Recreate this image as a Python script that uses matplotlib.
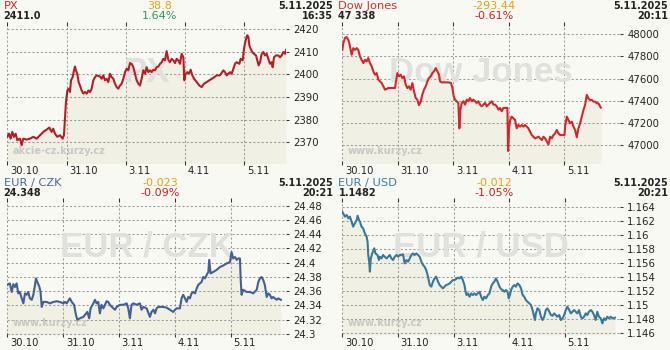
import matplotlib
matplotlib.use('Agg')
import matplotlib.pyplot as plt
import matplotlib.transforms as mtrans

# ---------------- data ----------------
day_labels = ['30.10', '31.10', '3.11', '4.11', '5.11']

# PX index, time in trading days since 30.10 open
px_t = [0, 0.028, 0.056, 0.084, 0.113, 0.141, 0.169, 0.214, 0.242, 0.270,
        0.326, 0.383, 0.439, 0.495, 0.551, 0.608, 0.664, 0.709, 0.748, 0.776,
        0.805, 0.844, 0.889, 0.934, 0.956, 0.973, 0.990, 1.013, 1.035, 1.058,
        1.075, 1.103, 1.125, 1.142, 1.159, 1.181, 1.204, 1.226, 1.255, 1.283,
        1.311, 1.339, 1.367, 1.395, 1.423, 1.452, 1.480, 1.508, 1.564, 1.592,
        1.620, 1.648, 1.677, 1.705, 1.733, 1.761, 1.789, 1.817, 1.845, 1.873,
        1.902, 1.930, 1.958, 1.986, 2.014, 2.042, 2.070, 2.098, 2.127, 2.155,
        2.183, 2.211, 2.239, 2.267, 2.295, 2.324, 2.352, 2.380, 2.408, 2.436,
        2.464, 2.492, 2.520, 2.549, 2.577, 2.605, 2.633, 2.661, 2.689, 2.717,
        2.745, 2.774, 2.802, 2.830, 2.858, 2.886, 2.914, 2.942, 2.971, 2.987,
        3.010, 3.038, 3.066, 3.094, 3.122, 3.151, 3.196, 3.241, 3.280, 3.319,
        3.364, 3.420, 3.477, 3.533, 3.589, 3.646, 3.674, 3.702, 3.758, 3.786,
        3.815, 3.843, 3.871, 3.916, 3.938, 3.972, 3.994, 4.017, 4.040, 4.051,
        4.068, 4.085, 4.107, 4.135, 4.163, 4.197, 4.220, 4.242, 4.265, 4.293,
        4.321, 4.349, 4.377, 4.405, 4.433, 4.461, 4.478, 4.501, 4.535, 4.574,
        4.602, 4.630, 4.658, 4.687, 4.703]
px_v = [2372.4, 2373.8, 2371.6, 2374.6, 2372.4, 2373.8, 2370.9, 2371.6, 2368.7, 2371.6,
        2371.2, 2371.6, 2372.4, 2371.6, 2373.1, 2374.6, 2375.6, 2376.5, 2374.6, 2376.0,
        2373.8, 2372.4, 2373.1, 2371.6, 2373.1, 2380.4, 2387.8, 2392.9, 2393.7, 2392.2,
        2397.4, 2398.8, 2401.8, 2403.5, 2401.8, 2400.3, 2396.6, 2395.1, 2392.9, 2391.5,
        2392.2, 2391.5, 2392.9, 2392.2, 2393.7, 2397.4, 2398.8, 2399.6, 2399.1, 2398.1,
        2399.6, 2397.4, 2398.1, 2396.6, 2400.3, 2398.8, 2398.1, 2395.9, 2394.4, 2393.7,
        2395.1, 2395.9, 2398.1, 2401.0, 2402.5, 2401.8, 2405.0, 2404.7, 2403.2, 2400.3,
        2397.4, 2395.9, 2395.1, 2398.1, 2401.8, 2400.3, 2403.2, 2401.0, 2401.8, 2401.0,
        2402.1, 2401.8, 2403.2, 2403.5, 2404.7, 2405.4, 2406.9, 2406.2, 2410.3, 2406.5,
        2405.4, 2406.9, 2406.2, 2405.0, 2406.9, 2406.2, 2404.7, 2409.1, 2407.6, 2397.4,
        2400.3, 2401.0, 2400.3, 2402.1, 2399.6, 2398.1, 2396.6, 2395.1, 2394.4, 2395.9,
        2396.6, 2397.6, 2398.5, 2399.6, 2399.6, 2401.8, 2401.0, 2399.6, 2401.0, 2400.3,
        2402.5, 2404.7, 2405.4, 2404.7, 2406.9, 2406.2, 2411.3, 2414.5, 2416.8, 2417.3,
        2416.5, 2412.8, 2411.3, 2409.9, 2409.1, 2408.4, 2406.2, 2404.0, 2405.4, 2409.1,
        2409.9, 2408.4, 2409.1, 2406.9, 2404.7, 2405.4, 2403.2, 2407.6, 2408.4, 2408.4,
        2407.6, 2408.4, 2409.9, 2409.1, 2410.8]

# Dow Jones, time in trading days
dj_t = [0, 0.018, 0.048, 0.078, 0.108, 0.126, 0.144, 0.168, 0.198, 0.228,
        0.258, 0.288, 0.318, 0.348, 0.378, 0.408, 0.438, 0.468, 0.498, 0.529,
        0.559, 0.589, 0.619, 0.649, 0.679, 0.709, 0.739, 0.769, 0.829, 0.889,
        0.949, 0.967, 0.991, 1.021, 1.051, 1.081, 1.111, 1.141, 1.171, 1.201,
        1.231, 1.261, 1.291, 1.321, 1.351, 1.381, 1.411, 1.441, 1.471, 1.502,
        1.532, 1.562, 1.592, 1.622, 1.652, 1.682, 1.712, 1.742, 1.760, 1.790,
        1.850, 1.910, 1.958, 1.982, 2.006, 2.030, 2.060, 2.090, 2.108, 2.126,
        2.150, 2.180, 2.210, 2.240, 2.270, 2.300, 2.330, 2.360, 2.390, 2.420,
        2.450, 2.480, 2.511, 2.541, 2.571, 2.601, 2.631, 2.661, 2.691, 2.721,
        2.751, 2.781, 2.811, 2.841, 2.871, 2.901, 2.931, 2.973, 2.985, 3.003,
        3.021, 3.051, 3.111, 3.141, 3.171, 3.201, 3.231, 3.261, 3.291, 3.321,
        3.351, 3.381, 3.411, 3.441, 3.471, 3.532, 3.592, 3.622, 3.652, 3.712,
        3.742, 3.772, 3.802, 3.832, 3.862, 3.892, 3.922, 3.952, 4.000, 4.012,
        4.042, 4.072, 4.102, 4.132, 4.162, 4.192, 4.222, 4.252, 4.282, 4.312,
        4.342, 4.372, 4.402, 4.432, 4.462, 4.492, 4.522, 4.552, 4.582, 4.612,
        4.643, 4.655]
dj_v = [47860, 47920, 47966, 47975, 47950, 47920, 47875, 47815, 47875, 47860,
        47875, 47860, 47800, 47770, 47740, 47770, 47755, 47785, 47740, 47710,
        47665, 47635, 47650, 47590, 47575, 47560, 47530, 47500, 47515, 47515,
        47515, 47575, 47650, 47620, 47635, 47605, 47620, 47545, 47515, 47530,
        47500, 47560, 47485, 47425, 47410, 47360, 47390, 47455, 47500, 47530,
        47575, 47605, 47620, 47650, 47665, 47695, 47665, 47635, 47575, 47566,
        47566, 47566, 47560, 47515, 47440, 47410, 47395, 47380, 47151, 47317,
        47380, 47395, 47365, 47410, 47395, 47425, 47395, 47410, 47395, 47380,
        47395, 47365, 47350, 47365, 47380, 47350, 47365, 47380, 47395, 47365,
        47365, 47350, 47320, 47335, 47305, 47335, 47335, 47335, 46946, 47150,
        47226, 47256, 47226, 47151, 47181, 47166, 47181, 47166, 47181, 47166,
        47151, 47121, 47090, 47075, 47060, 47075, 47045, 47075, 47060, 47005,
        47075, 47060, 47090, 47105, 47136, 47105, 47090, 47090, 47090, 47166,
        47256, 47226, 47196, 47211, 47166, 47136, 47070, 47151, 47196, 47256,
        47317, 47362, 47453, 47422, 47407, 47407, 47392, 47392, 47377, 47377,
        47347, 47338]

# EUR/CZK, time in hours since 30.10 00:00
czk_t = [0, 1.1, 1.9, 2.6, 3.3, 4.0, 4.7, 5.4, 6.2, 6.9,
         7.6, 8.3, 9.0, 9.7, 10.5, 11.2, 11.9, 12.3, 12.9, 13.8,
         14.3, 14.8, 15.5, 16.9, 18.3, 19.8, 21.2, 22.6, 24.1, 24.8,
         25.5, 26.9, 27.7, 28.7, 29.5, 30.1, 31.2, 32.7, 33.4, 34.4,
         35.2, 35.8, 37.0, 37.7, 38.4, 39.1, 39.8, 40.5, 41.3, 42.7,
         43.4, 44.1, 45.6, 46.3, 47.0, 48.4, 49.9, 51.3, 52.0, 52.7,
         53.4, 54.2, 55.6, 57.0, 57.7, 58.5, 59.9, 61.3, 62.0, 62.8,
         63.5, 64.2, 64.9, 67.0, 68.5, 69.9, 71.3, 72.1, 72.8, 74.2,
         74.9, 75.6, 76.4, 77.1, 77.8, 78.5, 79.2, 79.9, 80.7, 81.4,
         82.1, 82.8, 83.5, 84.2, 85.0, 85.7, 86.4, 86.8, 87.4, 88.5,
         90.0, 91.4, 92.8, 94.3, 95.7, 96.4, 97.1, 97.9, 98.6, 99.3,
         100.0, 100.3, 100.7, 101.4, 102.9, 104.3, 105.7, 107.2, 107.9, 108.6,
         109.3, 110.0, 110.7, 111.5, 112.2, 112.9, 113.6, 114.3, 115.0, 115.8,
         116.5, 117.6]
czk_v = [24.369, 24.371, 24.359, 24.370, 24.366, 24.371, 24.357, 24.359, 24.350, 24.343,
         24.357, 24.355, 24.359, 24.350, 24.348, 24.355, 24.369, 24.378, 24.373, 24.366,
         24.359, 24.338, 24.345, 24.345, 24.343, 24.345, 24.346, 24.345, 24.343, 24.345,
         24.343, 24.350, 24.345, 24.341, 24.327, 24.320, 24.322, 24.324, 24.327, 24.331,
         24.322, 24.336, 24.343, 24.348, 24.343, 24.345, 24.329, 24.341, 24.336, 24.346,
         24.345, 24.341, 24.336, 24.334, 24.338, 24.341, 24.341, 24.343, 24.336, 24.322,
         24.341, 24.343, 24.341, 24.343, 24.334, 24.338, 24.336, 24.324, 24.331, 24.334,
         24.329, 24.336, 24.338, 24.338, 24.337, 24.334, 24.331, 24.334, 24.336, 24.336,
         24.350, 24.355, 24.350, 24.345, 24.352, 24.350, 24.357, 24.359, 24.357, 24.364,
         24.369, 24.371, 24.373, 24.380, 24.378, 24.383, 24.387, 24.404, 24.385, 24.387,
         24.390, 24.394, 24.396, 24.399, 24.401, 24.415, 24.406, 24.408, 24.404, 24.406,
         24.406, 24.378, 24.355, 24.362, 24.359, 24.359, 24.357, 24.362, 24.373, 24.378,
         24.380, 24.376, 24.369, 24.352, 24.357, 24.355, 24.350, 24.352, 24.350, 24.348,
         24.350, 24.348]

# EUR/USD, time in hours since 30.10 00:00
usd_t = [0, 0.4, 1.1, 1.9, 2.6, 3.3, 4.0, 4.7, 5.4, 6.2,
         6.6, 7.2, 7.6, 8.3, 9.0, 9.7, 10.5, 10.9, 11.2, 11.6,
         11.9, 12.3, 12.9, 13.8, 14.3, 15.2, 15.8, 16.2, 16.9, 17.6,
         18.3, 19.1, 19.8, 20.5, 21.2, 21.9, 22.6, 23.4, 24.1, 24.8,
         25.5, 26.2, 26.9, 27.7, 28.4, 29.1, 29.8, 30.5, 31.2, 31.9,
         32.7, 33.4, 34.1, 34.8, 35.5, 36.2, 37.0, 37.7, 38.4, 39.1,
         39.8, 40.5, 41.3, 42.0, 42.7, 43.4, 44.1, 44.8, 45.6, 46.3,
         47.0, 47.7, 48.4, 49.9, 50.6, 51.3, 52.0, 52.7, 53.2, 53.6,
         54.2, 54.9, 55.6, 56.3, 57.0, 57.7, 58.5, 59.2, 59.9, 60.6,
         61.3, 62.0, 62.8, 63.5, 64.2, 64.9, 65.6, 66.3, 67.0, 67.8,
         68.5, 69.2, 69.9, 70.6, 71.3, 71.8, 72.3, 72.8, 73.5, 74.2,
         74.9, 75.6, 76.4, 77.1, 77.8, 78.5, 79.2, 79.9, 80.7, 81.4,
         82.1, 82.8, 83.1, 83.5, 84.2, 85.0, 85.7, 86.4, 87.1, 87.8,
         88.5, 89.3, 90.0, 90.7, 91.4, 92.1, 92.8, 93.6, 94.3, 95.0,
         95.7, 96.4, 97.1, 97.9, 98.6, 99.3, 100.0, 100.7, 101.4, 102.1,
         102.9, 103.6, 104.3, 105.0, 105.7, 106.4, 107.2, 107.9, 108.6, 109.3,
         110.0, 110.7, 111.5, 112.2, 112.9, 113.6, 114.3, 115.0, 115.8, 116.5,
         117.6]
usd_v = [1.16329, 1.16305, 1.16258, 1.16282, 1.16234, 1.16258, 1.16187, 1.16116, 1.16163, 1.1621,
         1.16272, 1.1621, 1.16187, 1.16116, 1.16092, 1.16021, 1.15973, 1.15902, 1.15713, 1.15618,
         1.15476, 1.15665, 1.15736, 1.15808, 1.15736, 1.15713, 1.15642, 1.15689, 1.15665, 1.15713,
         1.15689, 1.15665, 1.15689, 1.15713, 1.15665, 1.15642, 1.15689, 1.15713, 1.15689, 1.15713,
         1.15713, 1.15722, 1.15594, 1.15642, 1.15618, 1.15665, 1.15713, 1.15736, 1.15713, 1.15736,
         1.15713, 1.15689, 1.15618, 1.15571, 1.15547, 1.155, 1.15405, 1.15286, 1.15263, 1.15334,
         1.15381, 1.15405, 1.15334, 1.15286, 1.15263, 1.15239, 1.15263, 1.15286, 1.15296, 1.1531,
         1.15334, 1.15357, 1.15357, 1.15391, 1.15381, 1.15405, 1.15357, 1.15286, 1.15191, 1.15144,
         1.15168, 1.1512, 1.15168, 1.15144, 1.15168, 1.15144, 1.15168, 1.15191, 1.1512, 1.15073,
         1.1512, 1.15097, 1.15144, 1.15168, 1.15263, 1.1531, 1.15334, 1.15381, 1.15334, 1.15263,
         1.15229, 1.15215, 1.15191, 1.15215, 1.15191, 1.15097, 1.15144, 1.15215, 1.15263, 1.15286,
         1.15263, 1.1531, 1.15286, 1.15239, 1.15144, 1.1512, 1.15073, 1.15049, 1.15026, 1.15002,
         1.14931, 1.14836, 1.14789, 1.14883, 1.14955, 1.14931, 1.14836, 1.14789, 1.14836, 1.14931,
         1.14955, 1.14907, 1.1486, 1.1485, 1.14883, 1.1486, 1.14836, 1.1486, 1.14789, 1.14812,
         1.1486, 1.14931, 1.14978, 1.14931, 1.14883, 1.14907, 1.14931, 1.14907, 1.14883, 1.14931,
         1.14836, 1.14812, 1.14836, 1.14883, 1.1486, 1.14907, 1.14931, 1.14907, 1.1486, 1.14789,
         1.14907, 1.14836, 1.14812, 1.14741, 1.14812, 1.14789, 1.14836, 1.14812, 1.14836, 1.14812,
         1.14822]

px_yticks = [2370, 2380, 2390, 2400, 2410, 2420]
px_ylabels = ['2370', '2380', '2390', '2400', '2410', '2420']
dj_yticks = [47000, 47200, 47400, 47600, 47800, 48000]
dj_ylabels = ['47000', '47200', '47400', '47600', '47800', '48000']
czk_yticks = [24.30, 24.32, 24.34, 24.36, 24.38, 24.40, 24.42, 24.44, 24.46, 24.48]
czk_ylabels = ['24.3', '24.32', '24.34', '24.36', '24.38', '24.4', '24.42', '24.44', '24.46', '24.48']
usd_yticks = [1.146, 1.148, 1.150, 1.152, 1.154, 1.156, 1.158, 1.160, 1.162, 1.164]
usd_ylabels = ['1.146', '1.148', '1.15', '1.152', '1.154', '1.156', '1.158', '1.16', '1.162', '1.164']

headers = [
    # name, last, change, pct, date, time
    ('PX', '2411.0', '38.8', '1.64%', '5.11.2025', '16:35'),
    ('Dow Jones', '47 338', '-293.44', '-0.61%', '5.11.2025', '20:11'),
    ('EUR / CZK', '24.348', '-0.023', '-0.09%', '5.11.2025', '20:21'),
    ('EUR / USD', '1.1482', '-0.012', '-1.05%', '5.11.2025', '20:21'),
]

# ---------------- drawing ----------------
W, H = 670, 350
BG = '#f9f9f4'
FILL = '#f0f0e5'
GRID = '#9a9a9a'
DARK = '#222222'
ORANGE = '#e4a11b'
GREEN = '#2a9a5c'
RED = '#c42424'

fig = plt.figure(figsize=(6.7, 3.5), dpi=100)
fig.patch.set_facecolor(BG)


def add_axes(l, r, t, b):
    return fig.add_axes([l / W, 1 - b / H, (r - l) / W, (b - t) / H])


def ptext(x, y, s, **kw):
    fig.text(x / W, 1 - y / H, s, va='center', **kw)


offset = mtrans.ScaledTranslation(2.7 / 100, 0, fig.dpi_scale_trans)


def panel(box, t, v, xlim, xticks, ylim, yticks, ylabels, color, name, site):
    ax = add_axes(*box)
    ax.patch.set_alpha(0)
    for s in ax.spines.values():
        s.set_visible(False)
    ax.fill_between(t, v, ylim[0], color=FILL, lw=0, zorder=1)
    ax.plot(t, v, color=color, lw=1.5, zorder=3)
    ax.set_xlim(*xlim)
    ax.set_ylim(*ylim)
    ax.set_axisbelow('line')
    ax.set_xticks(xticks)
    ax.set_xticklabels(day_labels)
    ax.set_yticks(yticks)
    ax.set_yticklabels(ylabels)
    ax.grid(True, color=GRID, linestyle=(0, (2, 2)), linewidth=0.75)
    ax.tick_params(axis='x', direction='inout', length=3.5, width=0.75, color='#333333',
                   top=True, bottom=True, pad=0.2, labelsize=7.2, labelcolor=DARK)
    ax.tick_params(axis='y', direction='out', length=2.2, width=0.75, color='#333333',
                   left=False, right=True, labelleft=False, labelright=True,
                   pad=3.0, labelsize=7.3, labelcolor=DARK)
    for lab in ax.get_xticklabels():
        lab.set_horizontalalignment('left')
        lab.set_transform(lab.get_transform() + offset)
    ax.text(0.5, 0.65, name, transform=ax.transAxes, ha='center', va='center',
            fontsize=25, fontweight='bold', family='Liberation Sans', color='#e0e0dc', zorder=2)
    ax.text(0.02, 0.09, site, transform=ax.transAxes, ha='left', va='center',
            fontsize=7, fontweight='bold', color='#c8c8c4', zorder=2)
    return ax


panel((7.3, 286, 24, 163.3), px_t, px_v, (0, 4.703), [0, 1, 2, 3, 4],
      (2360.7, 2422.3), px_yticks, px_ylabels, '#b41f25', 'PX', 'akcie-cz.kurzy.cz')
panel((342.3, 620, 24, 163.3), dj_t, dj_v, (0, 5.0), [0, 1, 2, 3, 4],
      (46835, 48093), dj_yticks, dj_ylabels, '#d0282c', 'Dow Jones', 'www.kurzy.cz')
panel((7.3, 286, 200, 335), czk_t, czk_v, (0, 119.8), [0, 24, 48, 72, 96],
      (24.2986, 24.488), czk_yticks, czk_ylabels, '#445f92', 'EUR / CZK', 'www.kurzy.cz')
panel((342.3, 620, 200, 335), usd_t, usd_v, (0, 119.8), [0, 24, 48, 72, 96],
      (1.14576, 1.16495), usd_yticks, usd_ylabels, '#3a7898', 'EUR / USD', 'www.kurzy.cz')

title_colors = ['#c0282c', '#d2302f', '#4a6898', '#3c7a9c']
pct_colors = [GREEN, RED, RED, RED]
positions = [(3.5, 160, 333, 6, 16.3), (338.5, 494, 668, 6, 16.3),
             (3.5, 160, 333, 183.2, 193.2), (338.5, 494, 668, 183.2, 193.2)]
for (name, last, chg, pct, date, tm), tc, pc, (xl, xc, xr, y1, y2) in zip(
        headers, title_colors, pct_colors, positions):
    ptext(xl, y1, name, ha='left', fontsize=8.2, color=tc)
    ptext(xl, y2, last, ha='left', fontsize=7, fontweight='bold', color=DARK)
    ptext(xc, y1, chg, ha='center', fontsize=8, color=ORANGE)
    ptext(xc, y2, pct, ha='center', fontsize=8, color=pc)
    ptext(xr, y1, date, ha='right', fontsize=7, fontweight='bold', color=DARK)
    ptext(xr, y2, tm, ha='right', fontsize=7, fontweight='bold', color=DARK)

fig.savefig('out.png', dpi=100, facecolor=BG)
